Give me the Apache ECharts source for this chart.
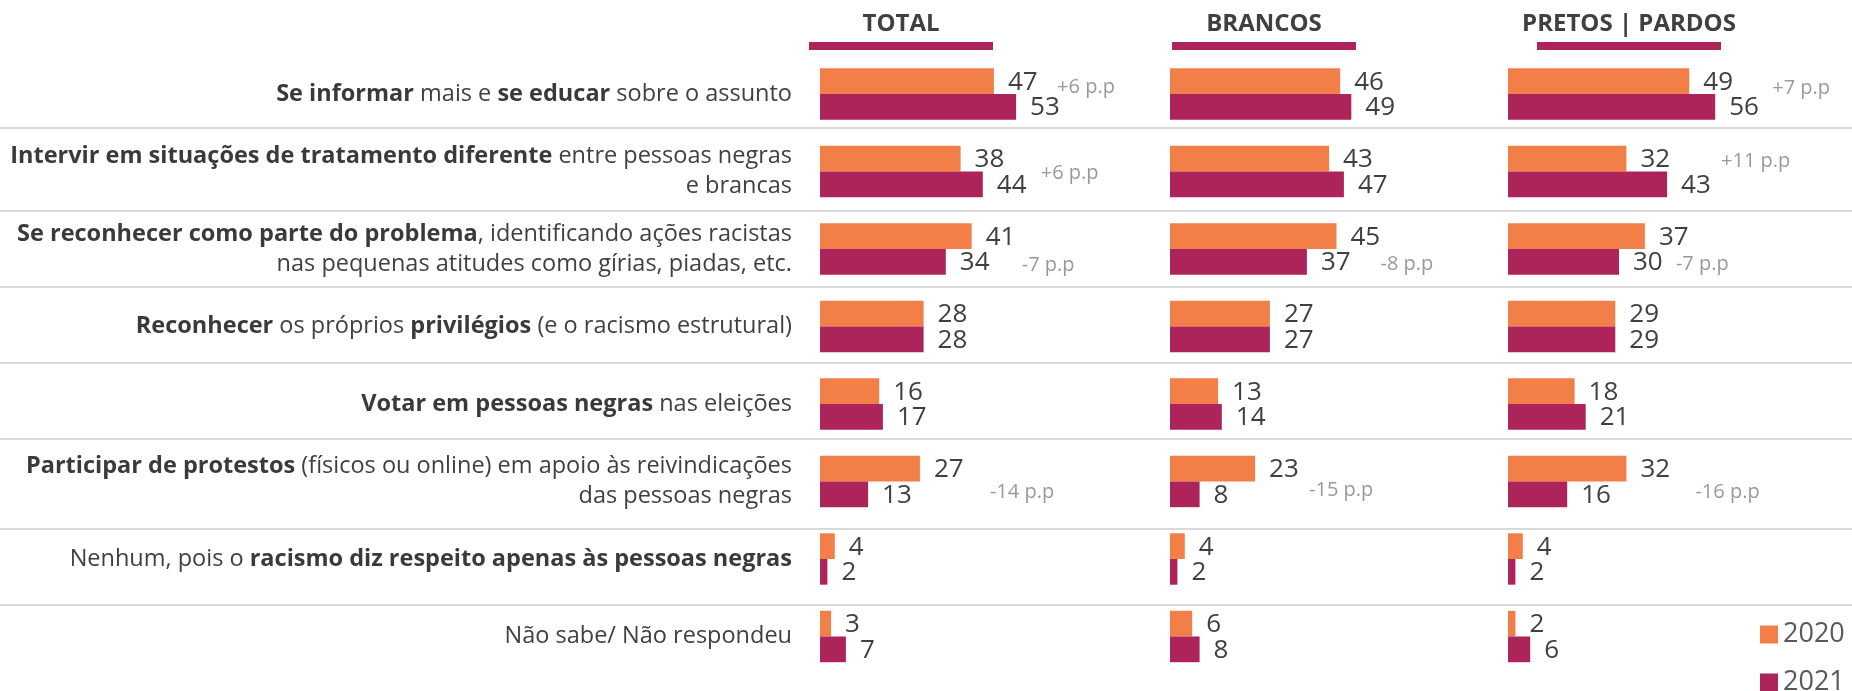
<!DOCTYPE html>
<html>
<head>
<meta charset="utf-8">
<script src="https://cdn.jsdelivr.net/npm/echarts@6/dist/echarts.min.js"></script>
<style>
  html, body { margin: 0; padding: 0; background: #fff; }
  #chart { width: 1852px; height: 691px; }
</style>
</head>
<body>
<div id="chart"></div>
<script>
// categorias ({b|...} = negrito)
var categories = [
  '{b|Se informar} mais e {b|se educar} sobre o assunto',
  '{b|Intervir em situações de tratamento diferente} entre pessoas negras\ne brancas',
  '{b|Se reconhecer como parte do problema}, identificando ações racistas\nnas pequenas atitudes como gírias, piadas, etc.',
  '{b|Reconhecer} os próprios {b|privilégios} (e o racismo estrutural)',
  '{b|Votar em pessoas negras} nas eleições',
  '{b|Participar de protestos} (físicos ou online) em apoio às reivindicações\ndas pessoas negras',
  'Nenhum, pois o {b|racismo diz respeito apenas às pessoas negras}',
  'Não sabe/ Não respondeu'
];
var years = ['2020', '2021'];
var groups = ['TOTAL', 'BRANCOS', 'PRETOS | PARDOS'];

var total2020 = [47, 38, 41, 28, 16, 27, 4, 3];
var total2021 = [53, 44, 34, 28, 17, 13, 2, 7];
var brancos2020 = [46, 43, 45, 27, 13, 23, 4, 6];
var brancos2021 = [49, 47, 37, 27, 14, 8, 2, 8];
var pretos2020 = [49, 32, 37, 29, 18, 32, 4, 2];
var pretos2021 = [56, 43, 30, 29, 21, 16, 2, 6];

var notesTotal = ['+6 p.p', '+6 p.p', '-7 p.p', '', '', '-14 p.p', '', ''];
var notesBrancos = ['', '', '-8 p.p', '', '', '-15 p.p', '', ''];
var notesPretos = ['+7 p.p', '+11 p.p', '-7 p.p', '', '', '-16 p.p', '', ''];

// layout
var ORANGE = '#F37F48', PURPLE = '#AC2459', TXT = '#404040', GREY = '#808080';
var gridLeft = [820, 1170, 1508];
var headerX = [901, 1264, 1629];
var lineY = [128, 211, 287, 363, 439, 529, 605];
// deslocamento das notas p.p (px, a partir do fim da maior barra)
var noteShift = [
  [[41, -7], [58, 2], [50, 16], null, null, [70, 11], null, null],
  [null, null, [44, 15], null, null, [54, 9], null, null],
  [[57, -6], [54, -10], [31, 15], null, null, [69, 11], null, null]
];

var panels = [
  { a: total2020, b: total2021, notes: notesTotal },
  { a: brancos2020, b: brancos2021, notes: notesBrancos },
  { a: pretos2020, b: pretos2021, notes: notesPretos }
];

var FONT = '"Open Sans", sans-serif';
var grids = [], xAxes = [], yAxes = [], series = [], graphics = [];

panels.forEach(function (p, k) {
  grids.push({ left: gridLeft[k], top: 55.25, height: 620, width: 222 });
  xAxes.push({ type: 'value', gridIndex: k, min: 0, max: 60, show: false });
  yAxes.push({
    type: 'category', gridIndex: k, inverse: true, data: categories,
    axisLine: { show: false }, axisTick: { show: false }, splitLine: { show: false },
    axisLabel: {
      show: k === 0, margin: 28, align: 'right',
      fontFamily: FONT, fontSize: 23.5, lineHeight: 30, color: TXT,
      rich: { b: { fontFamily: FONT, fontSize: 23.5, lineHeight: 30, fontWeight: 'bold', color: '#3a3a3a' } }
    }
  });
  [p.a, p.b].forEach(function (vals, j) {
    series.push({
      name: years[j], type: 'bar', xAxisIndex: k, yAxisIndex: k,
      data: vals, barWidth: 25.7, barGap: '0%',
      itemStyle: { color: j === 0 ? ORANGE : PURPLE },
      label: {
        show: true, position: 'right', distance: 14, offset: [0, 1],
        fontFamily: FONT, fontSize: 26, color: TXT
      },
      silent: true
    });
  });
  var noteData = [];
  p.notes.forEach(function (t, i) {
    if (!t) return;
    var sh = noteShift[k][i];
    noteData.push({
      name: t, value: [Math.max(p.a[i], p.b[i]), i],
      label: { offset: [sh[0], sh[1]] }
    });
  });
  series.push({
    type: 'scatter', xAxisIndex: k, yAxisIndex: k, symbolSize: 0, silent: true,
    data: noteData,
    label: {
      show: true, position: 'right', distance: 0,
      formatter: function (d) { return d.name; },
      fontFamily: FONT, fontSize: 20, color: GREY
    }
  });
  graphics.push({
    type: 'text', x: headerX[k], y: 24,
    style: {
      text: groups[k], textAlign: 'center', textVerticalAlign: 'middle',
      font: 'bold 24px ' + FONT, fill: TXT
    }
  });
  graphics.push({
    type: 'rect', shape: { x: headerX[k] - 92, y: 42, width: 184, height: 8 },
    style: { fill: PURPLE }
  });
});

lineY.forEach(function (y) {
  graphics.push({
    type: 'line', shape: { x1: 0, y1: y, x2: 1852, y2: y },
    style: { stroke: '#d9d9d9', lineWidth: 2 }, z: -1
  });
});

function legendFor(name, top) {
  return {
    data: [name], orient: 'vertical', left: 1760, top: top, padding: 0,
    itemWidth: 18, itemHeight: 18, icon: 'rect', itemGap: 0,
    textStyle: { fontFamily: FONT, fontSize: 27, lineHeight: 22, color: '#595959' }
  };
}

var chart = echarts.init(document.getElementById('chart'));
chart.setOption({
  animation: false,
  backgroundColor: '#fff',
  grid: grids,
  xAxis: xAxes,
  yAxis: yAxes,
  legend: [legendFor(years[0], 621), legendFor(years[1], 669)],
  graphic: graphics,
  series: series
});
</script>
</body>
</html>
